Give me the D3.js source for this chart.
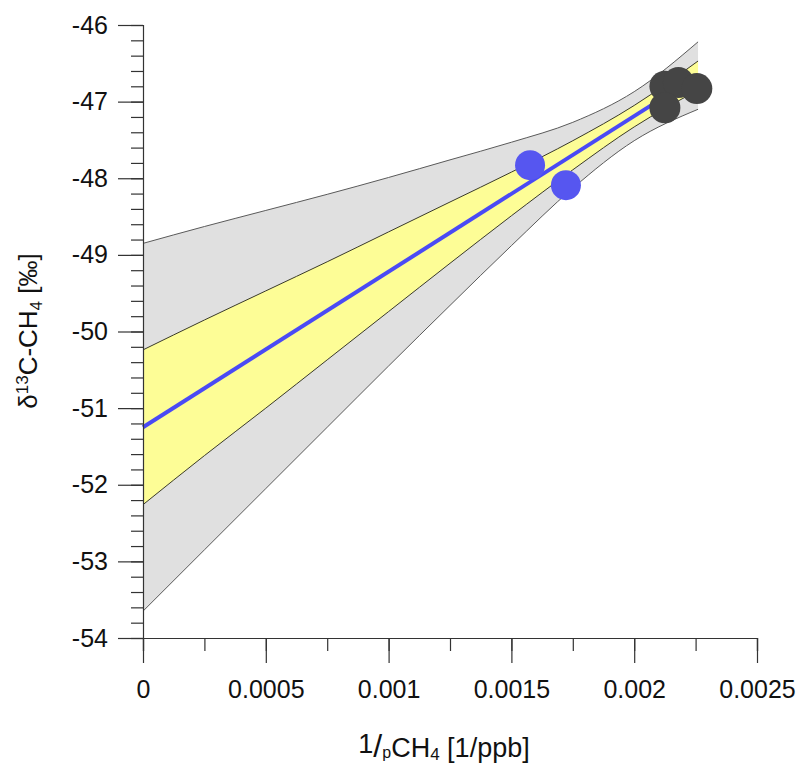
<!DOCTYPE html>
<html>
<head>
<meta charset="utf-8">
<script src="https://cdn.jsdelivr.net/npm/d3@7/dist/d3.min.js"></script>
<style>
  html, body { margin: 0; padding: 0; background: #fff; }
  svg { display: block; font-family: "Liberation Sans", Arial, sans-serif; }
</style>
</head>
<body>
<svg id="chart" width="801" height="769"></svg>
<script>
// ---- data ----
const bandX      = [0, 0.00025, 0.0005, 0.00075, 0.001, 0.00125, 0.0015, 0.00175, 0.002, 0.00226];
const outerUpper = [-48.85, -48.63, -48.42, -48.21, -47.99, -47.76, -47.53, -47.27, -46.87, -46.22];
const outerLower = [-53.65, -52.85, -52.05, -51.25, -50.45, -49.66, -48.88, -48.13, -47.51, -47.10];
const innerUpper = [-50.24, -49.85, -49.47, -49.09, -48.70, -48.31, -47.92, -47.51, -47.05, -46.47];
const innerLower = [-52.26, -51.62, -51.00, -50.37, -49.74, -49.11, -48.49, -47.89, -47.33, -46.85];
const fitX = [0, 0.00226];
const fitY = [-51.25, -46.66];
const blueX = [0.001576, 0.001722];
const blueY = [-47.83, -48.09];
const darkX = [0.002125, 0.00218, 0.002255, 0.002125];
const darkY = [-46.80, -46.75, -46.83, -47.08];
const xTickValues = [0, 0.0005, 0.001, 0.0015, 0.002, 0.0025];
const xTickLabels = ["0", "0.0005", "0.001", "0.0015", "0.002", "0.0025"];
const yTickValues = [-54, -53, -52, -51, -50, -49, -48, -47, -46];
const yTickLabels = ["-54", "-53", "-52", "-51", "-50", "-49", "-48", "-47", "-46"];

// ---- drawing ----
const svg = d3.select("#chart");
const x = d3.scaleLinear().domain([0, 0.0025]).range([143, 757]);
const y = d3.scaleLinear().domain([-54, -46]).range([638, 25]);

const idx = d3.range(bandX.length);
const area = (up, lo) => d3.area()
  .x(i => x(bandX[i])).y0(i => y(lo[i])).y1(i => y(up[i]))
  .curve(d3.curveMonotoneX);
const line = (arr) => d3.line()
  .x(i => x(bandX[i])).y(i => y(arr[i]))
  .curve(d3.curveMonotoneX);

svg.append("path").datum(idx).attr("d", area(outerUpper, outerLower)).attr("fill", "#e0e0e0");
svg.append("path").datum(idx).attr("d", area(innerUpper, innerLower)).attr("fill", "#fdfd96");

[outerUpper, outerLower].forEach(arr => {
  svg.append("path").datum(idx).attr("d", line(arr))
    .attr("fill", "none").attr("stroke", "#5a5a5a").attr("stroke-width", 1);
});
[innerUpper, innerLower].forEach(arr => {
  svg.append("path").datum(idx).attr("d", line(arr))
    .attr("fill", "none").attr("stroke", "#3a3a2a").attr("stroke-width", 1);
});

svg.append("path")
  .datum(d3.range(fitX.length))
  .attr("d", d3.line().x(i => x(fitX[i])).y(i => y(fitY[i])))
  .attr("fill", "none").attr("stroke", "#4a4af5").attr("stroke-width", 4);

svg.selectAll("circle.blue").data(d3.range(blueX.length)).join("circle")
  .attr("class", "blue")
  .attr("cx", i => x(blueX[i])).attr("cy", i => y(blueY[i])).attr("r", 15)
  .attr("fill", "#5656f0");

svg.selectAll("circle.dark").data(d3.range(darkX.length)).join("circle")
  .attr("class", "dark")
  .attr("cx", i => x(darkX[i])).attr("cy", i => y(darkY[i])).attr("r", 15.5)
  .attr("fill", "#454545");

// axes
const axisColor = "#333";
const gy = svg.append("g").attr("transform", "translate(143,0)");
gy.call(d3.axisLeft(y).ticks(40).tickSize(12).tickFormat(""));
gy.call(g => g.selectAll(".tick text").remove());
const gyMajor = svg.append("g").attr("transform", "translate(143,0)")
  .call(d3.axisLeft(y).tickValues(yTickValues).tickSize(25).tickPadding(10)
    .tickFormat((d, i) => yTickLabels[i]));
gyMajor.select(".domain").remove();

const gx = svg.append("g").attr("transform", "translate(0,638)");
gx.call(d3.axisBottom(x).tickValues(d3.range(0, 0.00251, 0.00025)).tickSize(13).tickFormat(""));
const gxMajor = svg.append("g").attr("transform", "translate(0,638)")
  .call(d3.axisBottom(x).tickValues(xTickValues).tickSize(25).tickPadding(17)
    .tickFormat((d, i) => xTickLabels[i]));
gxMajor.select(".domain").remove();

svg.selectAll(".domain").attr("stroke", axisColor).attr("stroke-width", 1.2);
svg.selectAll(".tick line").attr("stroke", axisColor).attr("stroke-width", 1.2);
svg.selectAll(".tick text").attr("font-size", 25).attr("fill", "#111")
  .attr("font-family", "'Liberation Sans', Arial, sans-serif");

// axis titles
const yt = svg.append("text")
  .attr("transform", "translate(37,331) rotate(-90)")
  .attr("text-anchor", "middle").attr("font-size", 26).attr("fill", "#111");
yt.append("tspan").text("δ");
yt.append("tspan").attr("font-size", 17).attr("dy", -9).text("13");
yt.append("tspan").attr("dy", 9).text("C-CH");
yt.append("tspan").attr("font-size", 17).attr("dy", 5).text("4");
yt.append("tspan").attr("dy", -5).text(" [‰]");

const xt = svg.append("text")
  .attr("x", 444).attr("y", 757)
  .attr("text-anchor", "middle").attr("font-size", 27).attr("fill", "#111");
xt.append("tspan").attr("dy", -4).text("1");
xt.append("tspan").attr("font-size", 32).attr("dy", 4).text("/");
xt.append("tspan").attr("font-size", 16).attr("dy", 1).text("p");
xt.append("tspan").attr("dy", -1).text("CH");
xt.append("tspan").attr("font-size", 17).attr("dy", 3).text("4");
xt.append("tspan").attr("dy", -3).text(" [1/ppb]");
</script>
</body>
</html>
